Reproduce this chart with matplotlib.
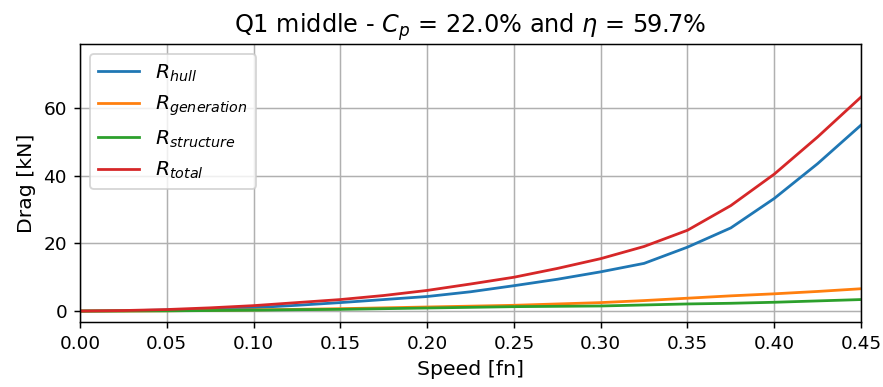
import matplotlib
matplotlib.use("Agg")
import matplotlib.pyplot as plt
import numpy as np

# --- speed samples [fn] and drag components [kN] ---
speed = [0.0, 0.025, 0.05, 0.075, 0.10, 0.125, 0.15, 0.175, 0.20, 0.225,
         0.25, 0.275, 0.30, 0.325, 0.35, 0.375, 0.40, 0.425, 0.45]
r_hull = [0.0, 0.1, 0.3, 0.6, 1.0, 1.7, 2.5, 3.4, 4.3, 5.7,
          7.5, 9.4, 11.6, 14.1, 18.9, 24.6, 33.3, 43.6, 55.0]
r_generation = [0.0, 0.02, 0.08, 0.2, 0.35, 0.5, 0.7, 0.95, 1.2, 1.45,
                1.7, 2.1, 2.5, 3.1, 3.8, 4.5, 5.1, 5.8, 6.6]
r_structure = [0.0, 0.02, 0.06, 0.15, 0.25, 0.4, 0.5, 0.7, 0.9, 1.1,
               1.3, 1.4, 1.5, 1.8, 2.1, 2.3, 2.6, 3.0, 3.4]
r_total = [0.0, 0.15, 0.45, 0.95, 1.6, 2.5, 3.4, 4.6, 6.1, 8.0,
           10.0, 12.6, 15.5, 19.1, 23.9, 31.2, 40.5, 51.5, 63.3]

dpi = 133.3
fig = plt.figure(figsize=(883 / dpi, 387 / dpi), dpi=dpi)
ax = fig.add_axes([80 / 883, 1 - 321.7 / 387, 781 / 883, 277.7 / 387])

ax.plot(speed, r_hull, label=r'$R_{hull}$')
ax.plot(speed, r_generation, label=r'$R_{generation}$')
ax.plot(speed, r_structure, label=r'$R_{structure}$')
ax.plot(speed, r_total, label=r'$R_{total}$')

ax.set_xlim(0, 0.45)
ax.set_ylim(-3.15, 79)
ax.set_xticks(np.arange(0, 0.451, 0.05))
ax.set_yticks([0, 20, 40, 60])
ax.grid(True)
ax.set_xlabel('Speed [fn]', fontsize=11)
ax.set_ylabel('Drag [kN]', fontsize=11)
ax.set_title(r'Q1 middle - $C_p$ = 22.0% and $\eta$ = 59.7%', fontsize=13)
ax.legend(loc='upper left', fontsize=11)

fig.savefig('out.png', dpi=dpi)
